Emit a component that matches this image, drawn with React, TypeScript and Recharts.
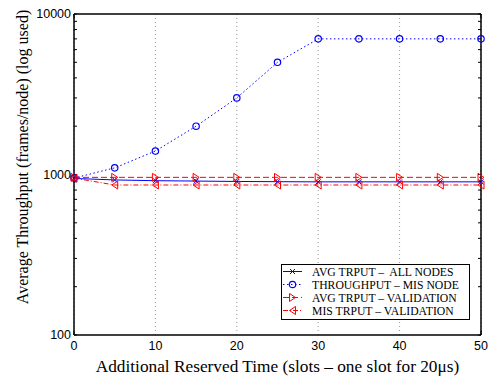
import { LineChart, Line, XAxis, YAxis, CartesianGrid } from 'recharts';

// reserved time in slots
const SLOTS = [0, 5, 10, 15, 20, 25, 30, 35, 40, 45, 50];
const AVG_ALL_NODES = [945, 925, 915, 910, 905, 902, 900, 900, 900, 900, 900];
const MIS_NODE = [950, 1100, 1400, 2000, 3000, 5000, 7000, 7000, 7000, 7000, 7000];
const AVG_VALIDATION = [960, 960, 960, 960, 960, 960, 960, 960, 960, 960, 960];
const MIS_VALIDATION = [950, 860, 860, 860, 860, 860, 860, 860, 860, 860, 860];

const X_TICKS = [0, 10, 20, 30, 40, 50];
const Y_TICKS = [100, 1000, 10000];
const Y_MINOR = [100, 200, 300, 400, 500, 600, 700, 800, 900, 1000, 2000, 3000, 4000, 5000, 6000, 7000, 8000, 9000, 10000];

const data = SLOTS.map((s, i) => ({
  slot: s,
  avgAll: AVG_ALL_NODES[i],
  misNode: MIS_NODE[i],
  avgVal: AVG_VALIDATION[i],
  misVal: MIS_VALIDATION[i],
}));

const BLUE = '#0000ff';
const RED = '#ff0000';
const SERIF = '"Liberation Serif", "Times New Roman", serif';
const SANS = '"Liberation Sans", Arial, sans-serif';

const cross = (cx: number, cy: number, c: string) => (
  <path d={`M${cx - 2.5},${cy - 2.5}L${cx + 2.5},${cy + 2.5}M${cx - 2.5},${cy + 2.5}L${cx + 2.5},${cy - 2.5}`} stroke={c} strokeWidth={1} fill="none" />
);
const circle = (cx: number, cy: number, c: string) => <circle cx={cx} cy={cy} r={3.2} stroke={c} strokeWidth={1.2} fill="none" />;
const triR = (cx: number, cy: number, c: string) => (
  <path d={`M${cx - 3},${cy - 4}L${cx + 3},${cy}L${cx - 3},${cy + 4}Z`} stroke={c} strokeWidth={1} fill="none" />
);
const triL = (cx: number, cy: number, c: string) => (
  <path d={`M${cx + 3},${cy - 4}L${cx - 3},${cy}L${cx + 3},${cy + 4}Z`} stroke={c} strokeWidth={1} fill="none" />
);

const dotOf = (fn: (x: number, y: number, c: string) => any, c: string) => (p: any) => (
  <g key={`dot-${p.index}`}>{fn(p.cx, p.cy, c)}</g>
);

const LEGEND = [
  { label: 'AVG TRPUT –  ALL NODES', color: BLUE, dash: undefined, mark: cross },
  { label: 'THROUGHPUT – MIS NODE', color: BLUE, dash: '1.5 2.5', mark: circle },
  { label: 'AVG TRPUT – VALIDATION', color: RED, dash: '6 3', mark: triR },
  { label: 'MIS TRPUT – VALIDATION', color: RED, dash: '5 2 1 2', mark: triL },
];

function LegendBox() {
  return (
    <svg width={189} height={56} style={{ position: 'absolute', left: 281, top: 264, display: 'block' }}>
      <rect x={0.5} y={0.5} width={188} height={55} fill="#fff" stroke="#000" />
      {LEGEND.map((l, i) => {
        const y = 7.5 + i * 13;
        return (
          <g key={l.label}>
            <line x1={2} x2={21} y1={y} y2={y} stroke={l.color} strokeDasharray={l.dash} />
            {l.mark(11.5, y, l.color)}
            <text x={31} y={y + 4} fontFamily={SERIF} fontSize={11.7} fill="#000" style={{ whiteSpace: 'pre' }}>
              {l.label}
            </text>
          </g>
        );
      })}
    </svg>
  );
}

export default function App() {
  const noLabel = () => '';
  return (
    <div style={{ position: 'absolute', left: 0, top: 0, width: 491, height: 379, background: '#fff' }}>
      <LineChart width={491} height={379} data={data} margin={{ top: 14, right: 10, left: 0, bottom: 0 }}>
        <CartesianGrid xAxisId="x" yAxisId="y" horizontal={false} stroke="#999" strokeDasharray="1 3" />
        <XAxis
          xAxisId="x"
          dataKey="slot"
          type="number"
          domain={[0, 50]}
          ticks={X_TICKS}
          height={44}
          tickLine={false}
          tickSize={0}
          tickMargin={6}
          axisLine={{ stroke: '#000', strokeWidth: 1.5 }}
          tick={{ fill: '#000', fontSize: 12.5, fontFamily: SANS }}
          label={{
            value: 'Additional Reserved Time (slots – one slot for 20μs)',
            position: 'insideBottom',
            offset: 7,
            style: { fill: '#000', fontSize: 17.3, fontFamily: SERIF },
          }}
        />
        <XAxis xAxisId="xb" type="number" domain={[0, 50]} ticks={X_TICKS} mirror tickSize={4} tickFormatter={noLabel} axisLine={false} tickLine={{ stroke: '#000' }} />
        <XAxis xAxisId="xt" orientation="top" type="number" domain={[0, 50]} ticks={X_TICKS} mirror tickSize={4} tickFormatter={noLabel} axisLine={{ stroke: '#000', strokeWidth: 1.5 }} tickLine={{ stroke: '#000' }} />
        <YAxis
          yAxisId="y"
          scale="log"
          domain={[100, 10000]}
          allowDataOverflow
          ticks={Y_TICKS}
          width={74}
          tickLine={false}
          tickSize={0}
          tickMargin={3}
          axisLine={{ stroke: '#000', strokeWidth: 1.5 }}
          tick={{ fill: '#000', fontSize: 12.5, fontFamily: SANS }}
          label={{
            content: () => (
              <text x={22} y={157} transform="rotate(-90 22 157)" textAnchor="middle" dominantBaseline="central" fontSize={16} fontFamily={SERIF} fill="#000">
                Average Throughput (frames/node) (log used)
              </text>
            ),
          }}
        />
        <YAxis yAxisId="yl" scale="log" domain={[100, 10000]} allowDataOverflow ticks={Y_MINOR} mirror tickSize={3} tickFormatter={noLabel} axisLine={false} tickLine={{ stroke: '#000' }} />
        <YAxis yAxisId="yr" orientation="right" scale="log" domain={[100, 10000]} allowDataOverflow ticks={Y_MINOR} mirror tickSize={3} tickFormatter={noLabel} axisLine={{ stroke: '#000', strokeWidth: 1.5 }} tickLine={{ stroke: '#000' }} />
        <Line xAxisId="x" yAxisId="y" dataKey="avgAll" stroke={BLUE} strokeWidth={1} dot={dotOf(cross, BLUE)} isAnimationActive={false} />
        <Line xAxisId="x" yAxisId="y" dataKey="misNode" stroke={BLUE} strokeWidth={1} strokeDasharray="1.5 2.5" dot={dotOf(circle, BLUE)} isAnimationActive={false} />
        <Line xAxisId="x" yAxisId="y" dataKey="avgVal" stroke={RED} strokeWidth={1} strokeDasharray="6 3" dot={dotOf(triR, RED)} isAnimationActive={false} />
        <Line xAxisId="x" yAxisId="y" dataKey="misVal" stroke={RED} strokeWidth={1} strokeDasharray="5 2 1 2" dot={dotOf(triL, RED)} isAnimationActive={false} />
      </LineChart>
      <LegendBox />
    </div>
  );
}
